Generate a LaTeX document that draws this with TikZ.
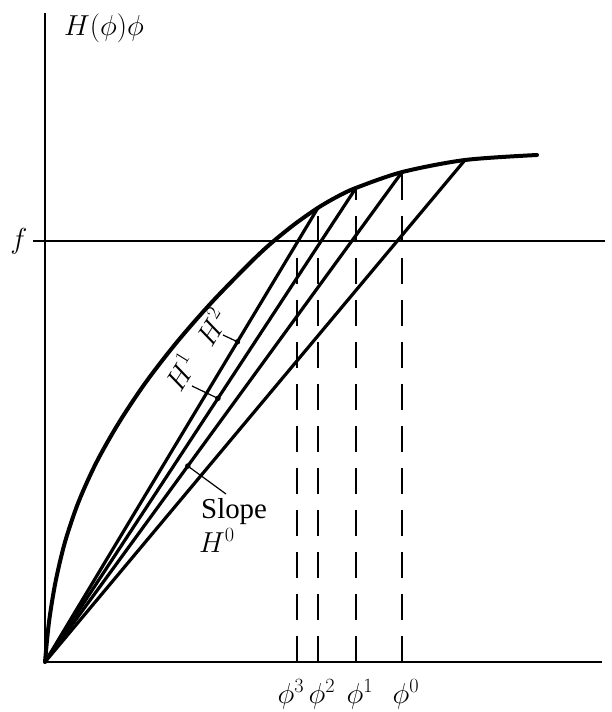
\RequirePackage{fix-cm}
\documentclass[tikz,border=0pt]{standalone}
\usepackage{fontspec}
\setmainfont{Liberation Serif}
\usetikzlibrary{calc}
\begin{document}
\begin{tikzpicture}[x=1bp,y=-1bp,
  axis/.style={line width=1.4bp},
  curve/.style={line width=4bp, line cap=round},
  secant/.style={line width=3.2bp, line cap=round},
  guide/.style={line width=1.5bp, dash pattern=on 26bp off 16bp},
  pointer/.style={line width=1.2bp},
  dotmark/.style={circle, fill, inner sep=0pt, minimum size=5.5bp},
  lbl/.style={inner sep=0pt, font=\fontsize{29}{35}\selectfont}]
\useasboundingbox (0,0) rectangle (612,712);
% key points
\coordinate (O) at (45,662);
\coordinate (ytop) at (45,13);
\coordinate (xend) at (602,662);
\coordinate (fl) at (33,241);
\coordinate (fr) at (605,241);
\coordinate (P0) at (465,160);
\coordinate (P1) at (402,172.1);
\coordinate (P2) at (356,187.9);
\coordinate (P3) at (318,207.8);
\coordinate (b0) at (402,662);
\coordinate (b1) at (356,662);
\coordinate (b2) at (318,662);
\coordinate (b3) at (297,662);
\coordinate (c3) at (297,243);
% axes and f level
\draw[axis] (O) -- (ytop);
\draw[axis] (O) -- (xend);
\draw[axis] (fl) -- (fr);
% curve
\draw[curve] plot[smooth, tension=0.5] coordinates {(45,662) (49,622) (55.5,582) (65,542) (78.5,502) (96.6,462) (119.3,422) (146,382) (177,342) (212,302) (251,262) (271.5,242.9) (295,223.9) (318,207.8) (337,196.8) (356,187.9) (402,172.1) (465,160) (537,155)};
% secant lines
\draw[secant] (O) -- (P0);
\draw[secant] (O) -- (P1);
\draw[secant] (O) -- (P2);
\draw[secant] (O) -- (P3);
% dashed guides
\draw[guide] (b0) -- (P1);
\draw[guide] (b1) -- (P2);
\draw[guide] (b2) -- (P3);
\draw[guide] (b3) -- (c3);
% labels
\node[lbl] (ylab) at (104,28) {$H(\phi)\phi$};
\node[lbl] (flab) at (19,241) {$f$};
\node[lbl, anchor=base] (phi3) at (291,703) {$\phi^3$};
\node[lbl, anchor=base] (phi2) at (322,703) {$\phi^2$};
\node[lbl, anchor=base] (phi1) at (360,703) {$\phi^1$};
\node[lbl, anchor=base] (phi0) at (406,703) {$\phi^0$};
% pointers
\node[dotmark] (dot0) at ($(O)!0.4!(P1)$) {};
\node[dotmark] (dot1) at ($(O)!0.556!(P2)$) {};
\node[dotmark] (dot2) at ($(O)!0.705!(P3)$) {};
\coordinate (t0) at (226,494);
\coordinate (t1) at (192,386);
\coordinate (t2) at (223,335);
\draw[pointer] (t0) -- (dot0.center);
\draw[pointer] (t1) -- (dot1.center);
\draw[pointer] (t2) -- (dot2.center);
\node[lbl, rotate=58] (h2) at (211,327) {$H^2$};
\node[lbl, rotate=58] (h1) at (180,372) {$H^1$};
\node[lbl, anchor=base west] (slope) at (201,518) {Slope};
\node[lbl, anchor=base west] (h0) at (199,552) {$H^0$};
\end{tikzpicture}
\end{document}
